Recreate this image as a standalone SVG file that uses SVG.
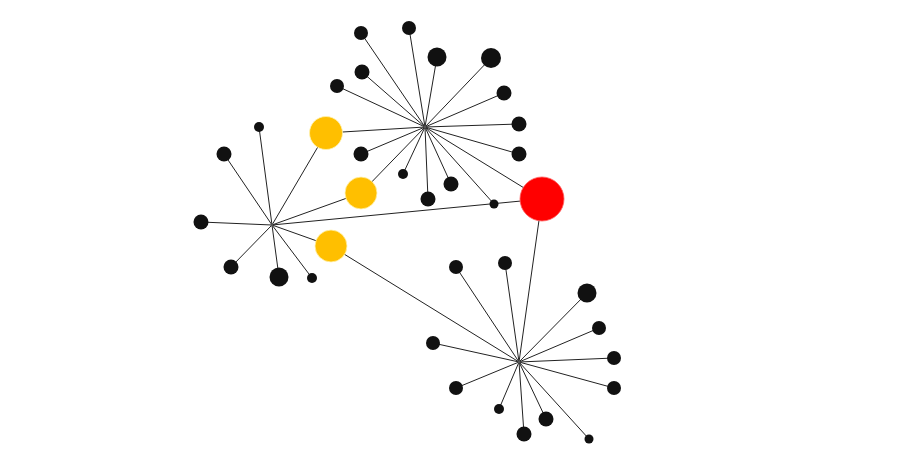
<svg xmlns="http://www.w3.org/2000/svg" width="904" height="463" viewBox="0 0 904 463">
<style>
.e{stroke:#222;stroke-width:1;fill:none}
.n{fill:#111}
.y{fill:#ffbf00;stroke:#fff2b0;stroke-width:0.8}
.r{fill:#ff0000;stroke:#ff6060;stroke-width:0.8}
.h{fill:#555}
</style>
<rect width="904" height="463" fill="#fff"/>
<g id="connectors">
<path class="e" d="M425,127L361,33M425,127L409,28M425,127L437,57M425,127L491,58M425,127L362,72M425,127L337,86M425,127L504,93M425,127L519,124M425,127L326,133M425,127L361,154M425,127L519,154M425,127L403,174M425,127L451,184M425,127L428,199M425,127L361,193M425,127L494,204M425,127L542,199"/>
<path class="e" d="M272,225L259,127M272,225L224,154M272,225L201,222M272,225L231,267M272,225L279,277M272,225L312,278M272,225L331,246M272,225L361,193M272,225L326,133M272,225L542,199"/>
<path class="e" d="M519,362L456,267M519,362L505,263M519,362L587,293M519,362L599,328M519,362L433,343M519,362L614,358M519,362L614,388M519,362L456,388M519,362L499,409M519,362L546,419M519,362L524,434M519,362L589,439M519,362L331,246M519,362L542,199"/>
</g>
<g id="hub-top"><circle class="h" cx="425" cy="127" r="1.5"/></g>
<g id="hub-left"><circle class="h" cx="272" cy="225" r="1.5"/></g>
<g id="hub-bottom"><circle class="h" cx="519" cy="362" r="1.5"/></g>
<g id="t1"><circle class="n" cx="361" cy="33" r="7"/></g>
<g id="t2"><circle class="n" cx="409" cy="28" r="7"/></g>
<g id="t3"><circle class="n" cx="437" cy="57" r="9.5"/></g>
<g id="t4"><circle class="n" cx="491" cy="58" r="10"/></g>
<g id="t5"><circle class="n" cx="362" cy="72" r="7.5"/></g>
<g id="t6"><circle class="n" cx="337" cy="86" r="7"/></g>
<g id="t7"><circle class="n" cx="504" cy="93" r="7.5"/></g>
<g id="t8"><circle class="n" cx="519" cy="124" r="7.5"/></g>
<g id="t9"><circle class="n" cx="361" cy="154" r="7.5"/></g>
<g id="t10"><circle class="n" cx="519" cy="154" r="7.5"/></g>
<g id="t11"><circle class="n" cx="403" cy="174" r="5"/></g>
<g id="t12"><circle class="n" cx="451" cy="184" r="7.5"/></g>
<g id="t13"><circle class="n" cx="428" cy="199" r="7.5"/></g>
<g id="t14"><circle class="n" cx="494" cy="204" r="4.5"/></g>
<g id="l1"><circle class="n" cx="259" cy="127" r="5"/></g>
<g id="l2"><circle class="n" cx="224" cy="154" r="7.5"/></g>
<g id="l3"><circle class="n" cx="201" cy="222" r="7.5"/></g>
<g id="l4"><circle class="n" cx="231" cy="267" r="7.5"/></g>
<g id="l5"><circle class="n" cx="279" cy="277" r="9.5"/></g>
<g id="l6"><circle class="n" cx="312" cy="278" r="5"/></g>
<g id="b1"><circle class="n" cx="456" cy="267" r="7"/></g>
<g id="b2"><circle class="n" cx="505" cy="263" r="7"/></g>
<g id="b3"><circle class="n" cx="587" cy="293" r="9.5"/></g>
<g id="b4"><circle class="n" cx="599" cy="328" r="7"/></g>
<g id="b5"><circle class="n" cx="433" cy="343" r="7"/></g>
<g id="b6"><circle class="n" cx="614" cy="358" r="7"/></g>
<g id="b7"><circle class="n" cx="614" cy="388" r="7"/></g>
<g id="b8"><circle class="n" cx="456" cy="388" r="7"/></g>
<g id="b9"><circle class="n" cx="499" cy="409" r="5"/></g>
<g id="b10"><circle class="n" cx="546" cy="419" r="7.5"/></g>
<g id="b11"><circle class="n" cx="524" cy="434" r="7.5"/></g>
<g id="b12"><circle class="n" cx="589" cy="439" r="4.5"/></g>
<g id="y1"><circle class="y" cx="326" cy="133" r="16.5"/></g>
<g id="y2"><circle class="y" cx="361" cy="193" r="16"/></g>
<g id="y3"><circle class="y" cx="331" cy="246" r="16"/></g>
<g id="red"><circle class="r" cx="542" cy="199" r="22"/></g>
</svg>
